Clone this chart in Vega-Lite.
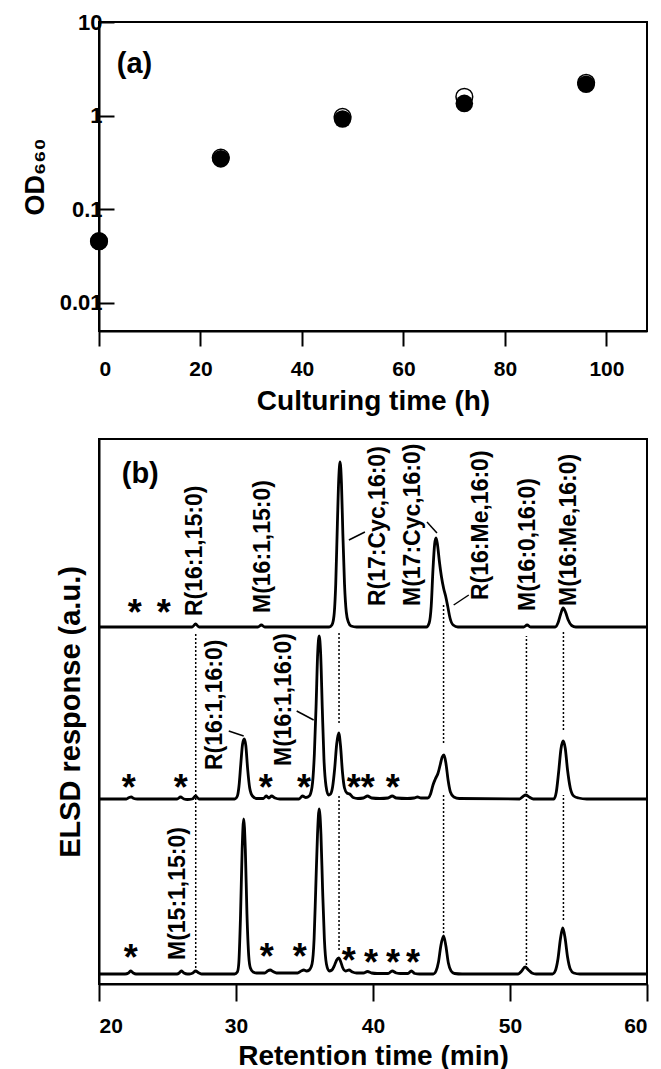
{
  "$schema": "https://vega.github.io/schema/vega-lite/v6.json",
  "padding": {"left": 20, "top": 10, "right": 5, "bottom": 5},
  "spacing": 22,
  "config": {
    "font": "Liberation Sans",
    "view": {"stroke": "black", "strokeWidth": 2},
    "axis": {
      "domainColor": "black", "domainWidth": 2, "tickColor": "black", "tickWidth": 2,
      "labelColor": "black", "labelFont": "Liberation Sans", "labelFontWeight": "bold", "labelFontSize": 21,
      "titleFont": "Liberation Sans", "titleFontWeight": "bold", "titleFontSize": 28, "titleColor": "black", "grid": false
    },
    "text": {"font": "Liberation Sans", "fontWeight": "bold", "color": "black"}
  },
  "datasets": {
    "growth": [
      {"t": 0, "od": 0.0455, "kind": "open"},
      {"t": 24, "od": 0.356, "kind": "open"},
      {"t": 48, "od": 0.97, "kind": "open"},
      {"t": 72, "od": 1.59, "kind": "open"},
      {"t": 96, "od": 2.24, "kind": "open"},
      {"t": 0, "od": 0.0455, "kind": "filled"},
      {"t": 24, "od": 0.345, "kind": "filled"},
      {"t": 48, "od": 0.92, "kind": "filled"},
      {"t": 72, "od": 1.35, "kind": "filled"},
      {"t": 96, "od": 2.16, "kind": "filled"}
    ],
    "traces": [
      {"trace": "c", "t": 20, "y": 10}, {"trace": "c", "t": 21.9, "y": 10}, {"trace": "c", "t": 22.15, "y": 11}, {"trace": "c", "t": 22.3, "y": 13}, {"trace": "c", "t": 22.5, "y": 11}, {"trace": "c", "t": 22.7, "y": 10},
      {"trace": "c", "t": 25.7, "y": 10}, {"trace": "c", "t": 25.85, "y": 11}, {"trace": "c", "t": 26.0, "y": 13}, {"trace": "c", "t": 26.2, "y": 11}, {"trace": "c", "t": 26.45, "y": 10}, {"trace": "c", "t": 26.6, "y": 10},
      {"trace": "c", "t": 26.85, "y": 11}, {"trace": "c", "t": 27.05, "y": 13}, {"trace": "c", "t": 27.3, "y": 11}, {"trace": "c", "t": 27.5, "y": 10}, {"trace": "c", "t": 29.9, "y": 10}, {"trace": "c", "t": 30.1, "y": 12},
      {"trace": "c", "t": 30.2, "y": 20}, {"trace": "c", "t": 30.33, "y": 68}, {"trace": "c", "t": 30.45, "y": 135}, {"trace": "c", "t": 30.56, "y": 165}, {"trace": "c", "t": 30.68, "y": 135}, {"trace": "c", "t": 30.8, "y": 70},
      {"trace": "c", "t": 30.93, "y": 28}, {"trace": "c", "t": 31.05, "y": 16}, {"trace": "c", "t": 31.25, "y": 12}, {"trace": "c", "t": 31.5, "y": 11}, {"trace": "c", "t": 32.1, "y": 11}, {"trace": "c", "t": 32.3, "y": 13},
      {"trace": "c", "t": 32.5, "y": 14}, {"trace": "c", "t": 32.7, "y": 12.5}, {"trace": "c", "t": 32.95, "y": 11}, {"trace": "c", "t": 34.5, "y": 11}, {"trace": "c", "t": 34.75, "y": 13}, {"trace": "c", "t": 34.95, "y": 14},
      {"trace": "c", "t": 35.15, "y": 13}, {"trace": "c", "t": 35.35, "y": 14}, {"trace": "c", "t": 35.55, "y": 20}, {"trace": "c", "t": 35.7, "y": 45}, {"trace": "c", "t": 35.82, "y": 95}, {"trace": "c", "t": 35.95, "y": 150},
      {"trace": "c", "t": 36.07, "y": 175}, {"trace": "c", "t": 36.2, "y": 150}, {"trace": "c", "t": 36.32, "y": 95}, {"trace": "c", "t": 36.45, "y": 45}, {"trace": "c", "t": 36.6, "y": 20}, {"trace": "c", "t": 36.8, "y": 13},
      {"trace": "c", "t": 37.0, "y": 14}, {"trace": "c", "t": 37.2, "y": 19}, {"trace": "c", "t": 37.35, "y": 24}, {"trace": "c", "t": 37.5, "y": 26}, {"trace": "c", "t": 37.65, "y": 22}, {"trace": "c", "t": 37.8, "y": 16},
      {"trace": "c", "t": 38.0, "y": 13}, {"trace": "c", "t": 38.25, "y": 14}, {"trace": "c", "t": 38.5, "y": 12}, {"trace": "c", "t": 38.8, "y": 11}, {"trace": "c", "t": 39.3, "y": 11}, {"trace": "c", "t": 39.6, "y": 12.5},
      {"trace": "c", "t": 39.9, "y": 11}, {"trace": "c", "t": 40.3, "y": 10.5}, {"trace": "c", "t": 41.1, "y": 10.5}, {"trace": "c", "t": 41.4, "y": 13}, {"trace": "c", "t": 41.7, "y": 11}, {"trace": "c", "t": 42.0, "y": 10.5},
      {"trace": "c", "t": 42.55, "y": 10.5}, {"trace": "c", "t": 42.8, "y": 13}, {"trace": "c", "t": 43.05, "y": 10.5}, {"trace": "c", "t": 43.4, "y": 10}, {"trace": "c", "t": 44.4, "y": 10}, {"trace": "c", "t": 44.6, "y": 13},
      {"trace": "c", "t": 44.78, "y": 22}, {"trace": "c", "t": 44.95, "y": 38}, {"trace": "c", "t": 45.15, "y": 48}, {"trace": "c", "t": 45.32, "y": 38}, {"trace": "c", "t": 45.5, "y": 21}, {"trace": "c", "t": 45.7, "y": 13},
      {"trace": "c", "t": 45.95, "y": 10.5}, {"trace": "c", "t": 46.5, "y": 10}, {"trace": "c", "t": 50.6, "y": 10}, {"trace": "c", "t": 50.85, "y": 13}, {"trace": "c", "t": 51.1, "y": 17}, {"trace": "c", "t": 51.35, "y": 14},
      {"trace": "c", "t": 51.6, "y": 11}, {"trace": "c", "t": 51.9, "y": 10}, {"trace": "c", "t": 53.1, "y": 10}, {"trace": "c", "t": 53.3, "y": 13}, {"trace": "c", "t": 53.5, "y": 25}, {"trace": "c", "t": 53.68, "y": 45},
      {"trace": "c", "t": 53.85, "y": 56}, {"trace": "c", "t": 54.02, "y": 46}, {"trace": "c", "t": 54.2, "y": 27}, {"trace": "c", "t": 54.4, "y": 15}, {"trace": "c", "t": 54.65, "y": 11}, {"trace": "c", "t": 55.1, "y": 10},
      {"trace": "c", "t": 60, "y": 10},
      {"trace": "b", "t": 20, "y": 185}, {"trace": "b", "t": 22.0, "y": 185}, {"trace": "b", "t": 22.2, "y": 186.5}, {"trace": "b", "t": 22.35, "y": 187}, {"trace": "b", "t": 22.55, "y": 185.5}, {"trace": "b", "t": 22.8, "y": 185},
      {"trace": "b", "t": 25.7, "y": 185}, {"trace": "b", "t": 25.95, "y": 187}, {"trace": "b", "t": 26.2, "y": 185}, {"trace": "b", "t": 26.45, "y": 184.5}, {"trace": "b", "t": 26.8, "y": 185}, {"trace": "b", "t": 27.05, "y": 188},
      {"trace": "b", "t": 27.3, "y": 185}, {"trace": "b", "t": 29.9, "y": 185}, {"trace": "b", "t": 30.1, "y": 188}, {"trace": "b", "t": 30.22, "y": 198}, {"trace": "b", "t": 30.35, "y": 220}, {"trace": "b", "t": 30.48, "y": 240},
      {"trace": "b", "t": 30.6, "y": 245}, {"trace": "b", "t": 30.72, "y": 238}, {"trace": "b", "t": 30.85, "y": 215}, {"trace": "b", "t": 31.0, "y": 196}, {"trace": "b", "t": 31.2, "y": 188}, {"trace": "b", "t": 31.5, "y": 185.5},
      {"trace": "b", "t": 32.0, "y": 185.5}, {"trace": "b", "t": 32.2, "y": 188}, {"trace": "b", "t": 32.4, "y": 186}, {"trace": "b", "t": 32.6, "y": 188}, {"trace": "b", "t": 32.85, "y": 186}, {"trace": "b", "t": 33.2, "y": 185},
      {"trace": "b", "t": 34.6, "y": 185}, {"trace": "b", "t": 34.85, "y": 188}, {"trace": "b", "t": 35.1, "y": 186.5}, {"trace": "b", "t": 35.35, "y": 188}, {"trace": "b", "t": 35.55, "y": 197}, {"trace": "b", "t": 35.72, "y": 230},
      {"trace": "b", "t": 35.85, "y": 280}, {"trace": "b", "t": 35.96, "y": 330}, {"trace": "b", "t": 36.07, "y": 348}, {"trace": "b", "t": 36.18, "y": 330}, {"trace": "b", "t": 36.3, "y": 275}, {"trace": "b", "t": 36.42, "y": 225},
      {"trace": "b", "t": 36.57, "y": 198}, {"trace": "b", "t": 36.75, "y": 189}, {"trace": "b", "t": 36.9, "y": 190}, {"trace": "b", "t": 37.05, "y": 197}, {"trace": "b", "t": 37.2, "y": 215}, {"trace": "b", "t": 37.35, "y": 240},
      {"trace": "b", "t": 37.5, "y": 251}, {"trace": "b", "t": 37.63, "y": 238}, {"trace": "b", "t": 37.77, "y": 212}, {"trace": "b", "t": 37.92, "y": 196}, {"trace": "b", "t": 38.1, "y": 191}, {"trace": "b", "t": 38.3, "y": 190},
      {"trace": "b", "t": 38.55, "y": 186.5}, {"trace": "b", "t": 38.9, "y": 185.5}, {"trace": "b", "t": 39.3, "y": 186}, {"trace": "b", "t": 39.6, "y": 188}, {"trace": "b", "t": 39.9, "y": 186}, {"trace": "b", "t": 40.5, "y": 185.5},
      {"trace": "b", "t": 41.1, "y": 186}, {"trace": "b", "t": 41.4, "y": 188}, {"trace": "b", "t": 41.7, "y": 186}, {"trace": "b", "t": 42.5, "y": 185.5}, {"trace": "b", "t": 43.0, "y": 186}, {"trace": "b", "t": 43.25, "y": 187},
      {"trace": "b", "t": 43.5, "y": 186}, {"trace": "b", "t": 44.0, "y": 186}, {"trace": "b", "t": 44.2, "y": 190}, {"trace": "b", "t": 44.38, "y": 199}, {"trace": "b", "t": 44.55, "y": 205}, {"trace": "b", "t": 44.75, "y": 211},
      {"trace": "b", "t": 44.92, "y": 220}, {"trace": "b", "t": 45.05, "y": 227}, {"trace": "b", "t": 45.18, "y": 229}, {"trace": "b", "t": 45.32, "y": 221}, {"trace": "b", "t": 45.48, "y": 204}, {"trace": "b", "t": 45.65, "y": 192},
      {"trace": "b", "t": 45.9, "y": 187}, {"trace": "b", "t": 46.3, "y": 185.5}, {"trace": "b", "t": 50.7, "y": 185}, {"trace": "b", "t": 50.95, "y": 187.5}, {"trace": "b", "t": 51.15, "y": 189}, {"trace": "b", "t": 51.4, "y": 187},
      {"trace": "b", "t": 51.7, "y": 185}, {"trace": "b", "t": 53.2, "y": 185}, {"trace": "b", "t": 53.38, "y": 192}, {"trace": "b", "t": 53.55, "y": 212}, {"trace": "b", "t": 53.72, "y": 235}, {"trace": "b", "t": 53.88, "y": 243},
      {"trace": "b", "t": 54.03, "y": 236}, {"trace": "b", "t": 54.2, "y": 214}, {"trace": "b", "t": 54.4, "y": 196}, {"trace": "b", "t": 54.65, "y": 188}, {"trace": "b", "t": 55.0, "y": 186}, {"trace": "b", "t": 55.6, "y": 185},
      {"trace": "b", "t": 60, "y": 185},
      {"trace": "a", "t": 20, "y": 357}, {"trace": "a", "t": 26.8, "y": 357}, {"trace": "a", "t": 27.05, "y": 360}, {"trace": "a", "t": 27.3, "y": 357}, {"trace": "a", "t": 31.6, "y": 357}, {"trace": "a", "t": 31.85, "y": 359},
      {"trace": "a", "t": 32.1, "y": 357}, {"trace": "a", "t": 36.8, "y": 357}, {"trace": "a", "t": 37.0, "y": 359}, {"trace": "a", "t": 37.15, "y": 368}, {"trace": "a", "t": 37.28, "y": 400}, {"trace": "a", "t": 37.4, "y": 460},
      {"trace": "a", "t": 37.5, "y": 505}, {"trace": "a", "t": 37.6, "y": 522}, {"trace": "a", "t": 37.7, "y": 500}, {"trace": "a", "t": 37.8, "y": 450}, {"trace": "a", "t": 37.92, "y": 400}, {"trace": "a", "t": 38.05, "y": 372},
      {"trace": "a", "t": 38.2, "y": 362}, {"trace": "a", "t": 38.4, "y": 358}, {"trace": "a", "t": 38.8, "y": 357}, {"trace": "a", "t": 43.9, "y": 357}, {"trace": "a", "t": 44.1, "y": 361}, {"trace": "a", "t": 44.25, "y": 378},
      {"trace": "a", "t": 44.38, "y": 415}, {"trace": "a", "t": 44.5, "y": 440}, {"trace": "a", "t": 44.6, "y": 446}, {"trace": "a", "t": 44.7, "y": 440}, {"trace": "a", "t": 44.85, "y": 422}, {"trace": "a", "t": 45.0, "y": 407},
      {"trace": "a", "t": 45.15, "y": 396}, {"trace": "a", "t": 45.3, "y": 388}, {"trace": "a", "t": 45.45, "y": 378}, {"trace": "a", "t": 45.62, "y": 366}, {"trace": "a", "t": 45.85, "y": 359}, {"trace": "a", "t": 46.2, "y": 357},
      {"trace": "a", "t": 51.0, "y": 357}, {"trace": "a", "t": 51.25, "y": 359}, {"trace": "a", "t": 51.5, "y": 357}, {"trace": "a", "t": 53.3, "y": 357}, {"trace": "a", "t": 53.5, "y": 361}, {"trace": "a", "t": 53.7, "y": 370},
      {"trace": "a", "t": 53.88, "y": 376}, {"trace": "a", "t": 54.05, "y": 372}, {"trace": "a", "t": 54.25, "y": 364}, {"trace": "a", "t": 54.5, "y": 358.5}, {"trace": "a", "t": 54.8, "y": 357}, {"trace": "a", "t": 60, "y": 357}
    ],
    "guides": [
      {"t": 27.06, "y": 16, "y2": 351},
      {"t": 37.52, "y": 261, "y2": 353},
      {"t": 37.52, "y": 34, "y2": 189},
      {"t": 45.15, "y": 241, "y2": 381},
      {"t": 45.15, "y": 51, "y2": 189},
      {"t": 51.2, "y": 19, "y2": 348},
      {"t": 53.9, "y": 254, "y2": 354},
      {"t": 53.9, "y": 64, "y2": 189}
    ],
    "leaders": [
      {"t": 38.24, "y": 444, "t2": 39.41, "y2": 452},
      {"t": 43.94, "y": 462, "t2": 44.67, "y2": 451},
      {"t": 45.89, "y": 379, "t2": 46.99, "y2": 389},
      {"t": 29.47, "y": 253, "t2": 30.56, "y2": 248},
      {"t": 34.43, "y": 273, "t2": 35.67, "y2": 264}
    ],
    "labels": [
      {"label": "R(16:1,15:0)", "t": 26.99, "y": 368},
      {"label": "M(16:1,15:0)", "t": 32.0, "y": 371},
      {"label": "R(17:Cyc,16:0)", "t": 40.4, "y": 378},
      {"label": "M(17:Cyc,16:0)", "t": 42.9, "y": 378},
      {"label": "R(16:Me,16:0)", "t": 47.9, "y": 384},
      {"label": "M(16:0,16:0)", "t": 51.3, "y": 373},
      {"label": "M(16:Me,16:0)", "t": 54.3, "y": 378},
      {"label": "R(16:1,16:0)", "t": 28.5, "y": 214},
      {"label": "M(16:1,16:0)", "t": 33.5, "y": 218},
      {"label": "M(15:1,15:0)", "t": 25.8, "y": 24}
    ],
    "stars": [
      {"t": 22.61, "y": 370.5}, {"t": 24.73, "y": 370.5},
      {"t": 22.17, "y": 195.5}, {"t": 25.97, "y": 195.5}, {"t": 32.18, "y": 195.5}, {"t": 34.96, "y": 195.5}, {"t": 38.59, "y": 195.5}, {"t": 39.61, "y": 195.5}, {"t": 41.44, "y": 195.5},
      {"t": 22.32, "y": 25.5}, {"t": 32.24, "y": 26.5}, {"t": 34.65, "y": 26.5}, {"t": 38.23, "y": 22.5}, {"t": 39.85, "y": 20.5}, {"t": 41.46, "y": 20.5}, {"t": 42.92, "y": 20.5}
    ]
  },
  "vconcat": [
    {
      "width": 548,
      "height": 309,
      "encoding": {
        "x": {"field": "t", "type": "quantitative", "scale": {"domain": [0, 108], "nice": false},
              "axis": {"values": [0, 20, 40, 60, 80, 100], "tickSize": 15, "labelPadding": 12, "title": "Culturing time (h)", "titlePadding": 8}},
        "y": {"field": "od", "type": "quantitative", "scale": {"type": "log", "domain": [0.005, 10], "nice": false},
              "axis": {"values": [0.01, 0.1, 1, 10], "format": "~g", "tickSize": -15, "labelPadding": 12, "labelFontSize": 22, "labelFontWeight": "bold", "title": "OD₆₆₀", "titleFontSize": 27, "titlePadding": 10}}
      },
      "layer": [
        {
          "data": {"name": "growth"},
          "transform": [{"filter": "datum.kind === 'open'"}],
          "mark": {"type": "point", "shape": "circle", "filled": true, "fill": "white", "stroke": "black", "strokeWidth": 1.5, "size": 280, "opacity": 1}
        },
        {
          "data": {"name": "growth"},
          "transform": [{"filter": "datum.kind === 'filled'"}],
          "mark": {"type": "point", "shape": "circle", "filled": true, "fill": "black", "strokeWidth": 0, "size": 310, "opacity": 1}
        },
        {
          "data": {"values": [{"t": 3.5, "od": 3.56, "label": "(a)"}]},
          "mark": {"type": "text", "align": "left", "baseline": "middle", "fontSize": 29, "fontWeight": "bold"},
          "encoding": {"text": {"field": "label"}}
        }
      ]
    },
    {
      "width": 548,
      "height": 545,
      "encoding": {
        "x": {"field": "t", "type": "quantitative", "scale": {"domain": [20, 60], "nice": false},
              "axis": {"values": [20, 30, 40, 50, 60], "tickSize": 17, "labelPadding": 14, "title": "Retention time (min)", "titlePadding": 6}},
        "y": {"field": "y", "type": "quantitative", "scale": {"domain": [0, 545], "nice": false, "zero": false},
              "axis": {"ticks": false, "labels": false, "title": "ELSD response (a.u.)", "titleFontSize": 29, "titlePadding": 14}}
      },
      "layer": [
        {
          "data": {"name": "guides"},
          "mark": {"type": "rule", "color": "black", "strokeWidth": 1.5, "strokeDash": [2, 2]},
          "encoding": {"y2": {"field": "y2"}}
        },
        {
          "data": {"name": "leaders"},
          "mark": {"type": "rule", "color": "black", "strokeWidth": 1.5},
          "encoding": {"x2": {"field": "t2"}, "y2": {"field": "y2"}}
        },
        {
          "data": {"name": "traces"},
          "mark": {"type": "line", "color": "black", "strokeWidth": 2.8, "interpolate": "monotone"},
          "encoding": {"detail": {"field": "trace"}}
        },
        {
          "data": {"name": "labels"},
          "mark": {"type": "text", "angle": 270, "align": "left", "baseline": "middle", "fontSize": 23, "fontWeight": "bold"},
          "encoding": {"text": {"field": "label"}}
        },
        {
          "data": {"name": "stars"},
          "mark": {"type": "text", "align": "center", "baseline": "middle", "fontSize": 36, "fontWeight": "bold", "text": "*"}
        },
        {
          "data": {"values": [{"t": 21.66, "y": 510, "label": "(b)"}]},
          "mark": {"type": "text", "align": "left", "baseline": "middle", "fontSize": 29, "fontWeight": "bold"},
          "encoding": {"text": {"field": "label"}}
        }
      ]
    }
  ]
}
